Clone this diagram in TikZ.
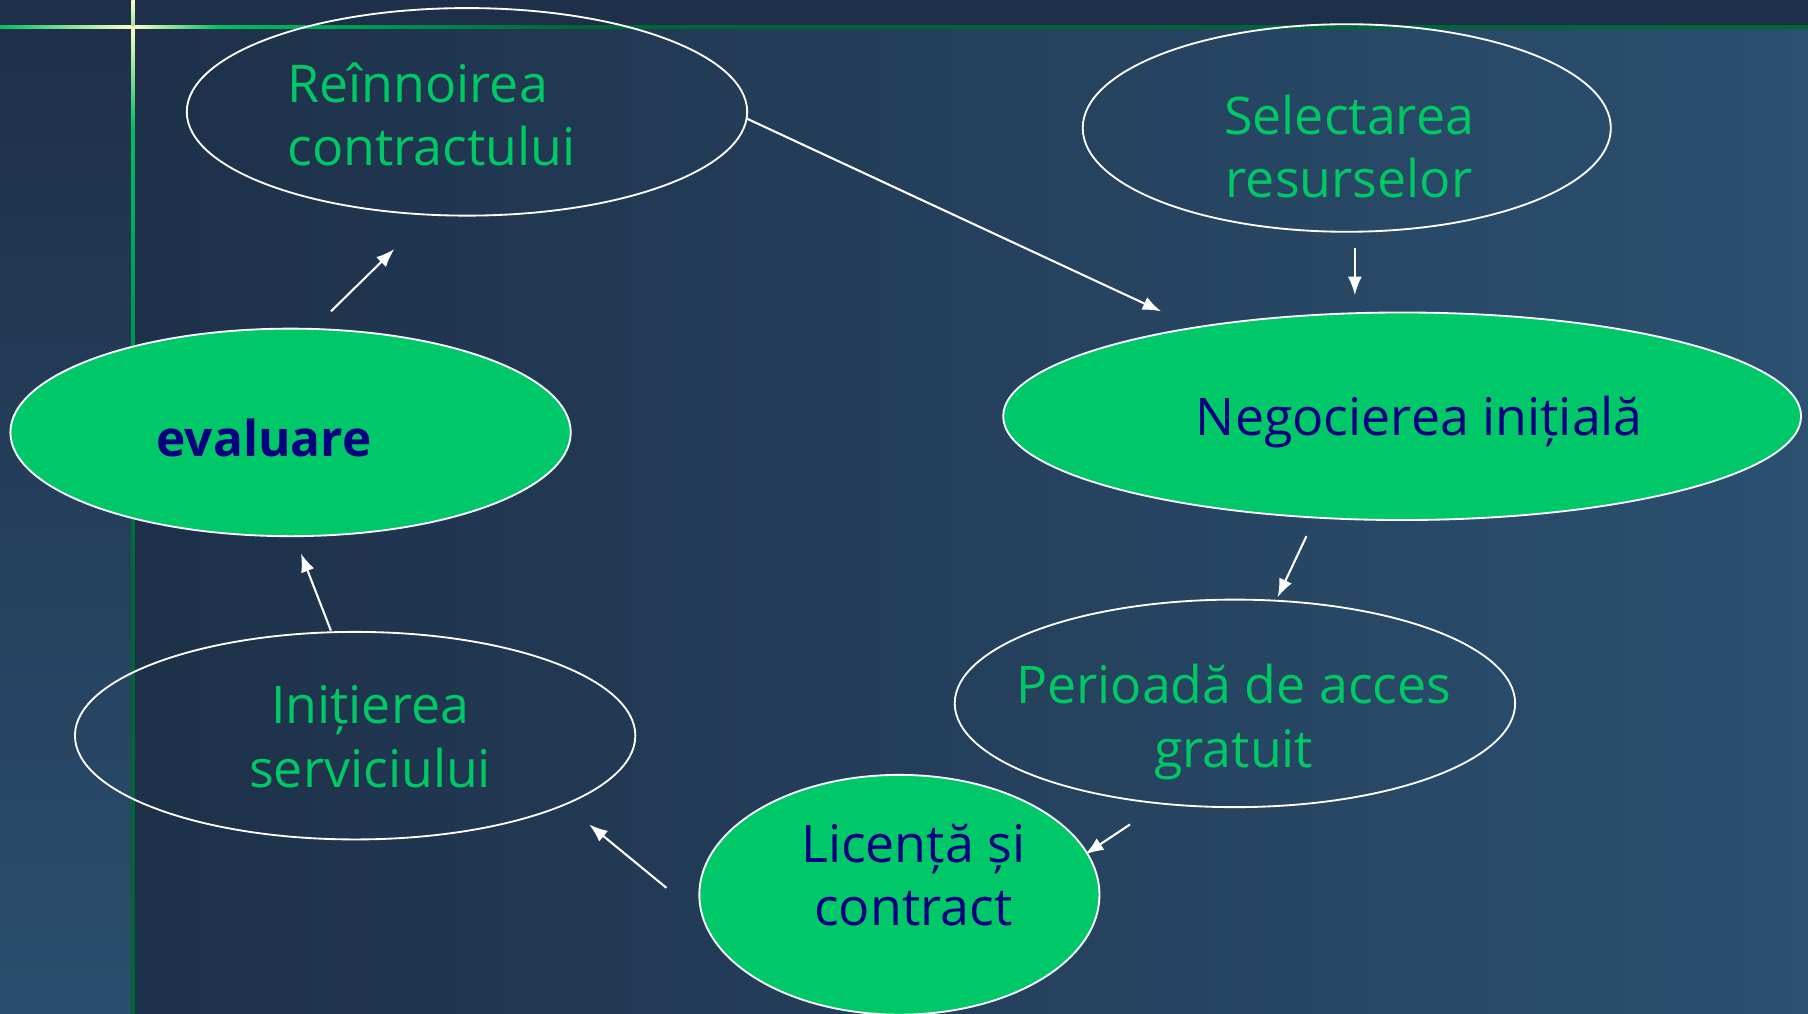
\documentclass[tikz,border=0pt]{standalone}
\usepackage{fontspec}
\setmainfont{Open Sans}
\usetikzlibrary{shapes.geometric,arrows.meta}
\definecolor{bgdark}{HTML}{1E3049}
\definecolor{bglight}{HTML}{2B5070}
\definecolor{leftlight}{HTML}{2B4E6E}
\definecolor{fillgreen}{HTML}{00C868}
\definecolor{txtgreen}{HTML}{00C864}
\definecolor{txtnavy}{HTML}{000080}
\definecolor{linegreen}{HTML}{00C060}
\definecolor{linedark}{HTML}{006633}
\definecolor{glow}{HTML}{FFFFC8}
\tikzset{
  bubble/.style={ellipse, draw=white, line width=1.6pt, inner sep=0pt, outer sep=0pt},
  filled/.style={bubble, fill=fillgreen},
  gtext/.style={text=txtgreen, font=\fontsize{45}{55}\selectfont, align=center, inner sep=0pt},
  ntext/.style={text=txtnavy, font=\fontsize{45}{55}\selectfont, align=center, inner sep=0pt},
  conn/.style={draw=white, line width=1.8pt, -{Latex[length=16pt,width=12pt]}}
}
\begin{document}
\begin{tikzpicture}[x=1pt,y=-1pt]
\useasboundingbox (0,0) rectangle (1568,879);
% background
\fill[bgdark] (0,0) rectangle (1568,23);
\shade[top color=bgdark, bottom color=leftlight] (0,23) rectangle (115,879);
\shade[left color=bgdark, right color=bglight] (115,23) rectangle (1568,879);
% frame lines
\shade[left color=linegreen, right color=glow] (0,22) rectangle (115,25);
\shade[left color=glow, right color=linegreen] (115,22) rectangle (190,25);
\shade[left color=linegreen, right color=linedark] (190,22) rectangle (500,25);
\fill[linedark] (500,22) rectangle (1568,25);
\shade[top color=glow, bottom color=glow!60!linegreen] (114,0) rectangle (117,23);
\shade[top color=glow, bottom color=linegreen] (114,23) rectangle (117,110);
\shade[top color=linegreen, bottom color=linedark] (114,110) rectangle (117,500);
\fill[linedark] (114,500) rectangle (117,879);

% ellipses
\node[bubble, minimum width=486, minimum height=180] (ren) at (405,97) {};
\node[bubble, minimum width=458, minimum height=180] (sel) at (1168,111) {};
\node[filled, minimum width=692, minimum height=180] (neg) at (1216,361) {};
\node[filled, minimum width=486, minimum height=180] (eva) at (252,375) {};
\node[bubble, minimum width=486, minimum height=180] (per) at (1071,610) {};
\node[filled, minimum width=347, minimum height=208] (lic) at (780,776) {};
\node[bubble, minimum width=486, minimum height=180] (ini) at (308,638) {};

% texts
\node[gtext, align=left, anchor=west] (tren) at (249,99) {Reînnoirea\\contractului};
\node[gtext] (tsel) at (1170,127) {Selectarea\\resurselor};
\node[ntext] (tneg) at (1231,366) {Negocierea inițială};
\node[ntext, font=\fontsize{43}{55}\selectfont\bfseries] (teva) at (229,380) {evaluare};
\node[gtext] (tper) at (1070,626) {Perioadă de acces\\gratuit};
\node[ntext] (tlic) at (792,759) {Licență și\\contract};
\node[gtext] (tini) at (321,639) {Inițierea\\serviciului};

% connector end points
\coordinate (a1s) at (648,103);  \coordinate (a1e) at (1007,270);
\coordinate (a2s) at (1175,215); \coordinate (a2e) at (1175,256);
\coordinate (a3s) at (1133,465); \coordinate (a3e) at (1108,518);
\coordinate (a4s) at (980,715);  \coordinate (a4e) at (941,741);
\coordinate (a5s) at (578,770);  \coordinate (a5e) at (511,715);
\coordinate (a6s) at (287,547);  \coordinate (a6e) at (261,480);
\coordinate (a7s) at (287,270);  \coordinate (a7e) at (342,216);
\draw[conn] (a1s) -- (a1e);
\draw[conn] (a2s) -- (a2e);
\draw[conn] (a3s) -- (a3e);
\draw[conn] (a4s) -- (a4e);
\draw[conn] (a5s) -- (a5e);
\draw[conn] (a6s) -- (a6e);
\draw[conn] (a7s) -- (a7e);
\end{tikzpicture}
\end{document}
